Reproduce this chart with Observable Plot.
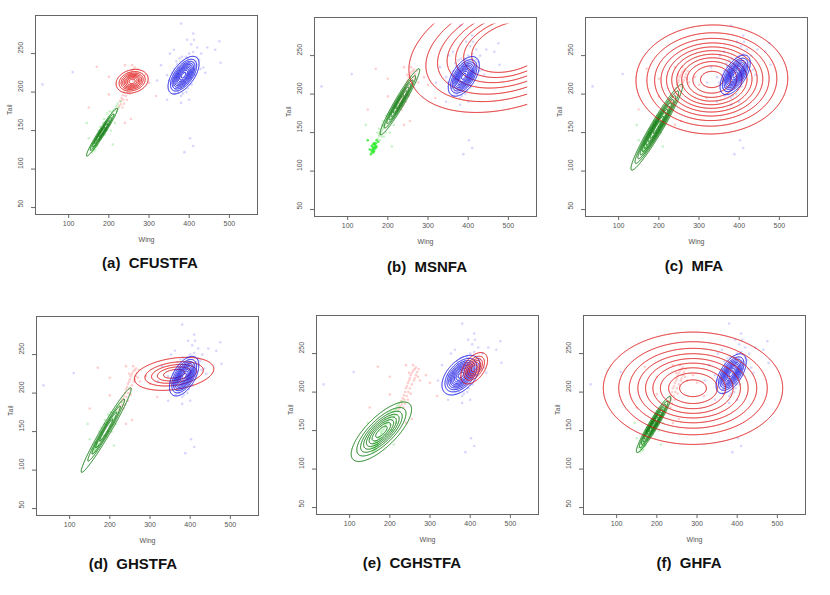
<!DOCTYPE html>
<html>
<head>
<meta charset="utf-8">
<script src="https://cdn.jsdelivr.net/npm/d3@7"></script>
<script src="https://cdn.jsdelivr.net/npm/@observablehq/plot@0.6"></script>
<style>
  body { margin: 0; background: #fff; }
  #wrap { position: relative; width: 830px; height: 595px; overflow: hidden; background: #fff; }
  .panel { position: absolute; }
  .cap { position: absolute; transform: translate(-50%, -50%); font-family: "Liberation Sans", Arial, sans-serif; font-weight: bold; font-size: 15px; color: #111; white-space: pre; }
</style>
</head>
<body>
<div id="wrap"></div>
<script>
// ---- tick labels ----
const xTicks = [100, 200, 300, 400, 500];
const yTicks = [50, 100, 150, 200, 250];

// ---- panels ----
const panelIds = ["a", "b", "c", "d", "e", "f"];
const panelTitles = ["(a)  CFUSTFA", "(b)  MSNFA", "(c)  MFA", "(d)  GHSTFA", "(e)  CGHSTFA", "(f)  GHFA"];

// ---- observations (Wing, Tail) per group ----
// RT (blue)
const rtWing = [380,385,390,375,395,370,400,365,388,382,392,378,398,372,405,360,410,384,376,394,368,402,386,380,390,396,374,362,408,415,355,358,420,412,366,372,384,398,404,392,378,386,370,400,418,425,350,345,362,396,388,382,376,368,406,414,428,430,410,364,380,393,372,387,399,383,377,391,379,395,
  380,410,445,465,478,475,352,362,388,402,410,110,35,320,345,380,400,435,440,420,405,395,412,330];
const rtTail = [222,225,228,218,230,215,232,210,220,230,218,212,225,224,235,208,238,215,228,236,220,228,240,205,212,244,232,218,226,240,212,225,245,230,204,200,198,210,218,246,238,232,236,250,236,242,215,222,230,205,208,246,244,240,210,222,230,250,252,198,195,200,208,236,238,226,220,224,216,222,
  289,276,258,255,238,266,250,255,122,140,130,226,210,215,190,186,190,232,225,258,262,268,268,235];
// CH (red)
const chWing = [228,232,235,238,240,243,245,248,250,252,255,258,262,265,268,270,260,255,250,246,242,236,230,225,222,248,258,265,272,275,262,245,238,234,252,
  150,170,200,240,255,300,318,290,240,200];
const chTail = [188,192,196,200,205,208,212,215,218,222,225,228,230,232,226,220,215,210,205,200,195,190,184,182,178,225,235,222,230,215,218,190,185,180,198,
  180,233,220,160,165,212,195,222,235,197];
// SS (green)
const ssWing = [165,162,168,160,170,172,175,178,180,182,185,188,190,192,195,198,200,205,208,212,215,218,222,158,164,170,176,184,186,194,200,206,210,174,180,190,196,202,214,220,155,166,172,178,188,145,150,230,225,205,215,210,160,163,167,161,169,166,164];
const ssTail = [130,128,134,125,136,140,142,146,148,150,152,155,158,160,162,165,168,170,174,176,178,182,185,122,135,130,138,145,160,150,158,164,168,150,140,145,172,175,170,175,128,126,132,155,165,160,140,188,180,150,160,132,133,131,129,127,132,136,124];

// ---- point colours ----
const ptBlue = "rgba(130,130,255,0.33)";
const ptRed = "rgba(255,110,110,0.33)";
const ptGreen = "rgba(90,220,90,0.33)";
const ptGreenBright = "rgba(40,235,40,0.8)";   // dense SS cluster in panel (b)

// ---- fitted components (contours) ----
const compPanel = ["a","a","a", "b","b","b", "c","c","c", "d","d","d", "e","e","e", "f","f","f"];
const compColor = ["green","red","blue", "green","red","blue", "green","red","blue", "green","red","blue", "green","blue","red", "green","blue","red"];
const compMx  = [183, 258, 386,  230, 510, 389,  195, 332, 390,  191, 360, 385,  179, 377, 410,  192, 385, 290];
const compMy  = [148, 214, 222,  190, 262, 223,  157, 219, 225,  152, 225, 222,  148.5, 222, 231, 158, 224, 205];
const compSx  = [18, 18.6, 18,   23, 120, 18,    30, 88, 17.5,   29, 46, 17,     35, 22, 15.5,   20, 17.5, 104];
const compSy  = [14.5, 7.2, 11.4, 20, 40, 12,    26, 33, 12,     25.6, 10, 12,   18, 12, 9.5,    17, 12, 34];
const compRho = [0.97, 0.2, 0.6,  0.96, 0.35, 0.55, 0.96, 0.02, 0.6, 0.975, 0.3, 0.55, 0.75, 0.5, 0.5, 0.95, 0.6, 0.0];
const compN   = [6, 8, 10,  7, 7, 10,  10, 11, 10,  5, 5, 10,  8, 10, 6,  9, 10, 9];
const compLo  = [0.1, 0.1, 0.1,  0.1, 0.1, 0.1,  0.1, 0.1, 0.1,  0.1, 0.1, 0.1,  0.1, 0.1, 0.1,  0.1, 0.1, 0.1];
const compHi  = [0.9, 0.92, 0.95, 0.9, 0.7, 0.95, 0.95, 0.95, 0.95, 0.85, 0.85, 0.95, 0.92, 0.95, 0.9, 0.95, 0.95, 0.95];

const lineColors = { green: "#0b7a0b", red: "#e01010", blue: "#1414e6" };

// contour evaluation grid (as in the original, it stops short of the frame)
const gridX = [25, 552];
const gridY = [45, 293];

// ---- frame placement ----
const frameLeft = [35, 314, 585, 36, 316, 583];
const frameTop  = [15, 17, 17, 316, 315, 315];
const capX = [150, 427, 694, 133, 412, 689];
const capY = [262, 266, 265, 563, 562, 562];

const W = 222, H = 199, mL = 40, mR = 6, mT = 15, mB = 35;
const xDomain = [17.5, 570], yDomain = [41, 299.5];

// build data table
const points = [];
rtWing.forEach((w, i) => points.push({ wing: w, tail: rtTail[i], g: 0 }));
chWing.forEach((w, i) => points.push({ wing: w, tail: chTail[i], g: 1 }));
ssWing.forEach((w, i) => points.push({ wing: w, tail: ssTail[i], g: 2 }));

const wrap = document.getElementById("wrap");

panelIds.forEach((pid, p) => {
  const comps = [];
  compPanel.forEach((cp, i) => { if (cp === pid) comps.push(i); });
  const contourMarks = comps.map(i => {
    const mx = compMx[i], my = compMy[i], sx = compSx[i], sy = compSy[i], rho = compRho[i];
    const n = compN[i], lo = compLo[i], hi = compHi[i];
    const thresholds = d3.range(n).map(k => lo + k * (hi - lo) / (n - 1));
    return Plot.contour({
      x1: gridX[0], x2: gridX[1], y1: gridY[0], y2: gridY[1],
      value: (x, y) => {
        const dx = (x - mx) / sx, dy = (y - my) / sy;
        const q = (dx * dx - 2 * rho * dx * dy + dy * dy) / (1 - rho * rho);
        return Math.exp(-q / 2);
      },
      thresholds,
      fill: "none",
      stroke: lineColors[compColor[i]],
      strokeWidth: 1,
      pixelSize: 0.5
    });
  });
  const ptFill = d => d.g === 0 ? ptBlue : d.g === 1 ? ptRed
    : (pid === "b" && d.tail < 141 && d.wing < 180 ? ptGreenBright : ptGreen);
  const svg = Plot.plot({
    width: W + mL + mR,
    height: H + mT + mB,
    marginLeft: mL, marginRight: mR, marginTop: mT, marginBottom: mB,
    x: { domain: xDomain },
    y: { domain: yDomain },
    style: { fontFamily: "Liberation Sans, Arial, sans-serif", fontSize: "7px", color: "#555", background: "transparent" },
    marks: [
      Plot.dot(points, { x: "wing", y: "tail", r: 1.3, fill: ptFill, stroke: "none" }),
      ...contourMarks,
      // hide the closing edges of contours that run off the evaluation grid
      Plot.rect([0], { x1: gridX[1] - 4, x2: xDomain[1], y1: yDomain[0], y2: yDomain[1], fill: "white" }),
      Plot.rect([0], { x1: xDomain[0], x2: xDomain[1], y1: gridY[1] - 2, y2: yDomain[1], fill: "white" }),
      Plot.frame({ stroke: "#666" }),
      Plot.axisX({ ticks: xTicks, tickSize: 4, tickPadding: 3, label: null, fontSize: 7, stroke: "#666", fill: "#555" }),
      Plot.axisY({ ticks: yTicks, tickSize: 4, tickFormat: () => "", label: null, stroke: "#666" }),
      Plot.text(yTicks, { y: d => d, text: d => String(d), frameAnchor: "left", dx: -15, rotate: -90, fontSize: 7, fill: "#555" }),
      Plot.text(["Wing"], { frameAnchor: "bottom", dy: 27, fontSize: 7, fill: "#555" }),
      Plot.text(["Tail"], { frameAnchor: "left", dx: -26, rotate: -90, fontSize: 7, fill: "#555" })
    ]
  });
  svg.classList.add("panel");
  svg.style.left = (frameLeft[p] - mL) + "px";
  svg.style.top = (frameTop[p] - mT) + "px";
  wrap.appendChild(svg);

  const cap = document.createElement("div");
  cap.className = "cap";
  cap.textContent = panelTitles[p];
  cap.style.left = capX[p] + "px";
  cap.style.top = capY[p] + "px";
  wrap.appendChild(cap);
});
</script>
</body>
</html>
